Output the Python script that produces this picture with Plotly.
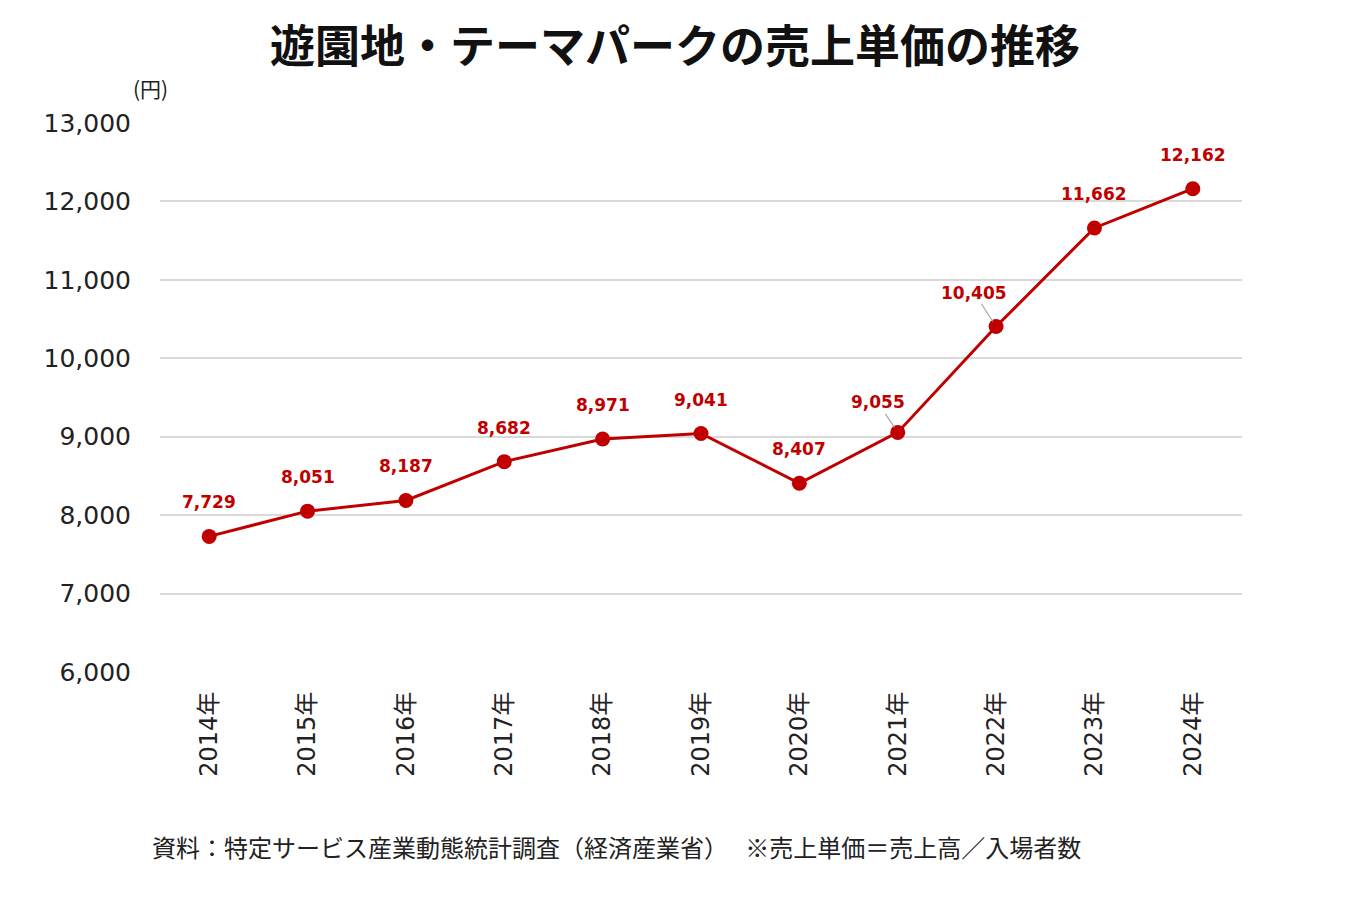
import plotly.graph_objects as go

years = ["2014年", "2015年", "2016年", "2017年", "2018年", "2019年",
         "2020年", "2021年", "2022年", "2023年", "2024年"]
values = [7729, 8051, 8187, 8682, 8971, 9041, 8407, 9055, 10405, 11662, 12162]
labels = ["7,729", "8,051", "8,187", "8,682", "8,971", "9,041",
          "8,407", "9,055", "10,405", "11,662", "12,162"]

RED = "#C00000"
FONT = "DejaVu Sans, Noto Sans CJK JP, sans-serif"
JFONT = "Noto Sans CJK JP, sans-serif"

fig = go.Figure()
fig.add_trace(go.Scatter(
    x=list(range(len(years))), y=values, mode="lines+markers",
    line=dict(color=RED, width=3),
    marker=dict(color=RED, size=15),
    hoverinfo="skip", showlegend=False,
))

leader = {7: (-20, -30), 8: (-22, -34)}
anns = []
for i, (v, t) in enumerate(zip(values, labels)):
    if i in leader:
        ax, ay = leader[i]
        anns.append(dict(x=i, y=v, xref="x", yref="y", text=t,
                         showarrow=True, ax=ax, ay=ay, arrowhead=0,
                         arrowcolor="#A6A6A6", arrowwidth=1.2, standoff=6,
                         font=dict(family=FONT, size=17, color=RED, weight="bold")))
    else:
        anns.append(dict(x=i, y=v, xref="x", yref="y", text=t,
                         showarrow=True, ax=0, ay=-34, arrowcolor="rgba(0,0,0,0)",
                         font=dict(family=FONT, size=17, color=RED, weight="bold")))
anns.append(dict(x=(150 - 160) / 1082, y=1 + (123 - 88) / 549, xref="paper", yref="paper",
                 text="(円)", showarrow=False, xanchor="center", yanchor="middle",
                 font=dict(family=JFONT, size=21, color="#222")))
anns.append(dict(x=(616 - 160) / 1082, y=-(846 - 672) / 549, xref="paper", yref="paper",
                 text="資料：特定サービス産業動態統計調査（経済産業省）　 ※売上単価＝売上高／入場者数",
                 showarrow=False, xanchor="center", yanchor="middle",
                 font=dict(family=JFONT, size=24, color="#222")))

fig.update_layout(
    width=1350, height=900,
    margin=dict(l=160, r=108, t=123, b=228),
    paper_bgcolor="white", plot_bgcolor="white",
    title=dict(text="遊園地・テーマパークの売上単価の推移", x=0.5, xanchor="center",
               y=1 - 47 / 900, yanchor="middle",
               font=dict(family=JFONT, size=45, color="#111", weight="bold")),
    xaxis=dict(range=[-0.5, len(years) - 0.5], tickmode="array",
               tickvals=list(range(len(years))), ticktext=years,
               tickangle=-90, showgrid=False, zeroline=False, showline=False,
               ticks="", ticklabelstandoff=14,
               tickfont=dict(family=FONT, size=24, color="#222")),
    yaxis=dict(range=[6000, 13000], dtick=1000, tickformat=",",
               showgrid=True, gridcolor="#D9D9D9", gridwidth=1.5,
               zeroline=False, showline=False, ticks="", ticklabelstandoff=28,
               tickfont=dict(family=FONT, size=25, color="#222")),
    annotations=anns,
)

fig.write_html("out.html")
